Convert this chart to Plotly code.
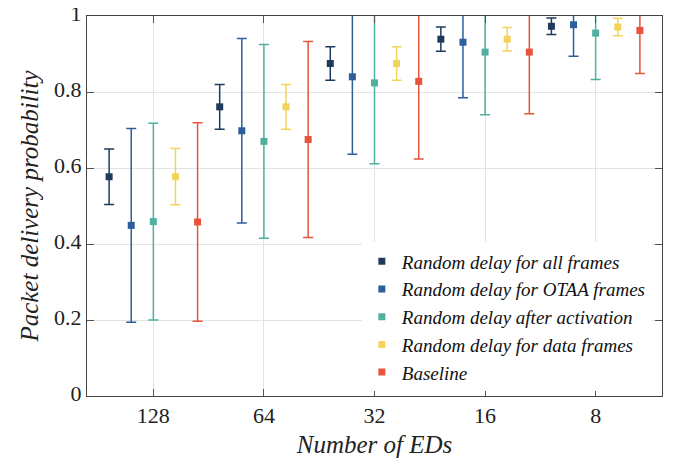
import plotly.graph_objects as go

categories = ["128", "64", "32", "16", "8"]

series_names = [
    "Random delay for all frames",
    "Random delay for OTAA frames",
    "Random delay after activation",
    "Random delay for data frames",
    "Baseline",
]

all_frames_mean = [0.577, 0.761, 0.875, 0.939, 0.973]
all_frames_err = [0.073, 0.059, 0.044, 0.032, 0.022]

otaa_mean = [0.449, 0.698, 0.840, 0.931, 0.977]
otaa_err = [0.255, 0.243, 0.204, 0.146, 0.083]

after_act_mean = [0.459, 0.670, 0.824, 0.905, 0.955]
after_act_err = [0.259, 0.255, 0.213, 0.165, 0.122]

data_frames_mean = [0.577, 0.761, 0.875, 0.939, 0.971]
data_frames_err = [0.074, 0.059, 0.044, 0.031, 0.023]

baseline_mean = [0.458, 0.675, 0.828, 0.905, 0.962]
baseline_err = [0.261, 0.258, 0.204, 0.162, 0.113]

means = [all_frames_mean, otaa_mean, after_act_mean, data_frames_mean, baseline_mean]
errs = [all_frames_err, otaa_err, after_act_err, data_frames_err, baseline_err]
colors = ["#1f3b5c", "#2c5f9c", "#4fb0a0", "#f2d45c", "#e8533c"]

font_family = "Liberation Serif, Times New Roman, Times, serif"

fig = go.Figure()
for i, (name, m, e, c) in enumerate(zip(series_names, means, errs, colors)):
    fig.add_trace(go.Scatter(
        x=categories, y=m, name=name, mode="markers",
        offsetgroup=str(i),
        marker=dict(symbol="square", size=7, color=c),
        error_y=dict(type="data", array=e, visible=True, color=c,
                     thickness=1.5, width=5),
        cliponaxis=True,
    ))

fig.update_layout(
    width=673, height=457,
    margin=dict(l=79, r=19, t=8, b=69, autoexpand=False),
    paper_bgcolor="white", plot_bgcolor="white",
    scattermode="group", scattergap=0,
    font=dict(family=font_family, size=22, color="#222222"),
    showlegend=True,
    legend=dict(
        x=0.478, y=0.012, xanchor="left", yanchor="bottom",
        bgcolor="rgba(255,255,255,1)", borderwidth=0,
        font=dict(family=font_family, size=19, style="italic", color="#111111"),
        tracegroupgap=0, itemwidth=30,
    ),
)

fig.update_xaxes(
    type="category", range=[-0.6, 4.6], automargin=False,
    showline=True, linecolor="#444444", linewidth=1, mirror="ticks",
    ticks="inside", ticklen=7, tickcolor="#555555",
    showgrid=True, gridcolor="#e3e3e3", gridwidth=1,
    title=dict(text="Number of EDs", font=dict(size=25, style="italic"), standoff=8),
    tickfont=dict(size=22),
)
fig.update_yaxes(
    range=[0, 1], dtick=0.2, automargin=False, ticklabeloverflow="allow",
    ticklabelshift=-3,
    showline=True, linecolor="#444444", linewidth=1, mirror="ticks",
    ticks="inside", ticklen=7, tickcolor="#555555",
    showgrid=True, gridcolor="#e3e3e3", gridwidth=1, zeroline=False,
    title=dict(text="Packet delivery probability", font=dict(size=25, style="italic"), standoff=8),
    tickfont=dict(size=22),
)

fig.write_html("out.html")
